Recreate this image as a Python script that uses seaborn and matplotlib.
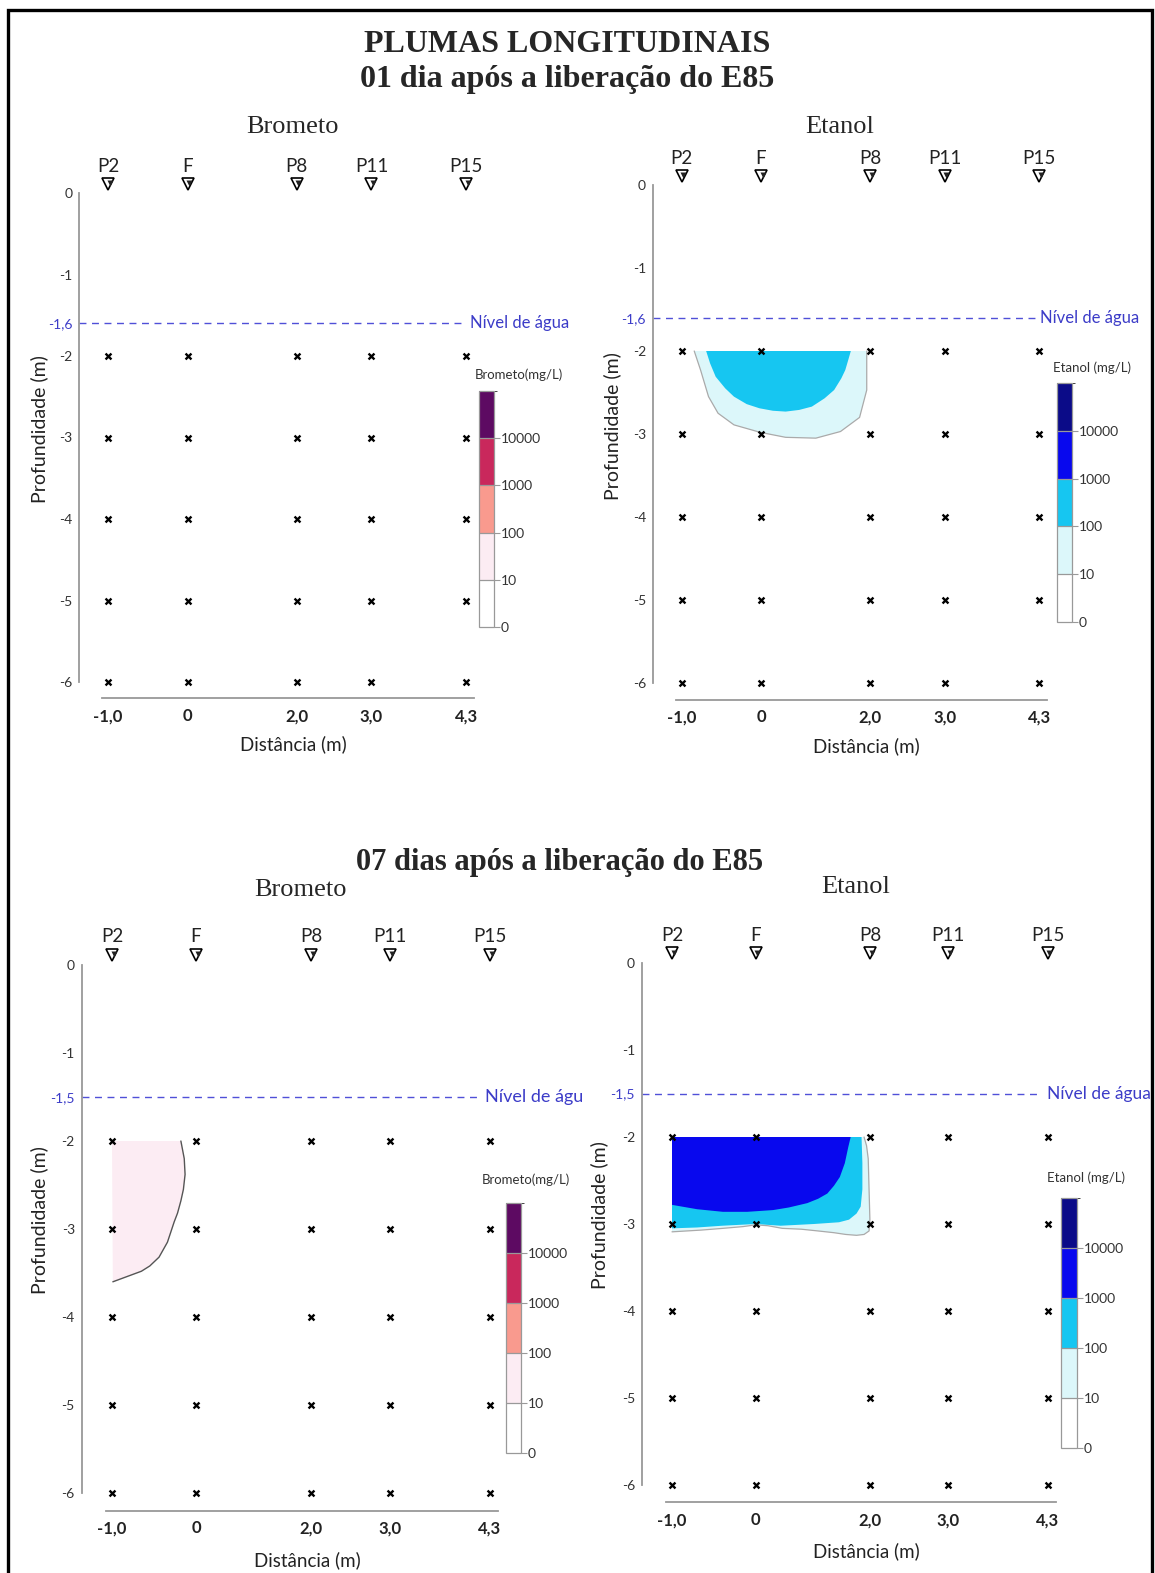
import matplotlib
matplotlib.use('Agg')
import numpy as np
import pandas as pd
import matplotlib.pyplot as plt
from matplotlib.colors import ListedColormap, BoundaryNorm
from matplotlib.cm import ScalarMappable
from matplotlib.patches import Rectangle
import seaborn as sns

sns.set_style('white')
plt.rcParams['font.family'] = ['Lato', 'DejaVu Sans']

W, H = 1155, 1573

# --- data -------------------------------------------------------------
wells = ['P2', 'F', 'P8', 'P11', 'P15']
well_dist = ['-1,0', '0', '2,0', '3,0', '4,3']
well_x = [0.0, 1.0, 2.37, 3.31, 4.50]          # schematic position along the section
sample_depth = [-2, -3, -4, -5, -6]
depth_ticks = [0, -1, -2, -3, -4, -5, -6]

conc_bounds = [0, 10, 100, 1000, 10000, 100000]
conc_labels = ['0', '10', '100', '1000', '10000']
brometo_colors = ['#ffffff', '#fcecf3', '#f99a8e', '#c9285c', '#5d0a62']
etanol_colors = ['#ffffff', '#dcf7fa', '#16c6f1', '#0808ee', '#0b0b88']

water_day1 = -1.6
water_day7 = -1.5

# plume outlines (x position, depth m)
et1_10_x = [0.16, 0.24, 0.34, 0.46, 0.66, 0.99, 1.31, 1.69, 2.00, 2.24, 2.33, 2.33]
et1_10_z = [-2.00, -2.23, -2.55, -2.75, -2.89, -2.98, -3.04, -3.05, -2.97, -2.80, -2.47, -2.00]
et1_100_x = [0.31, 0.36, 0.43, 0.55, 0.66, 0.82, 0.98, 1.15, 1.31, 1.48, 1.64, 1.80, 1.92, 2.01, 2.06, 2.10, 2.13]
et1_100_z = [-2.00, -2.15, -2.31, -2.45, -2.55, -2.64, -2.69, -2.72, -2.73, -2.71, -2.67, -2.57, -2.47, -2.33, -2.23, -2.10, -2.00]

br7_10_x = [0.82, 0.86, 0.87, 0.85, 0.82, 0.78, 0.74, 0.66, 0.56, 0.45, 0.35, 0.18, 0.01]
br7_10_z = [-2.00, -2.20, -2.38, -2.55, -2.68, -2.82, -2.92, -3.15, -3.32, -3.42, -3.48, -3.54, -3.60]

et7_10_x = [2.30, 2.33, 2.35, 2.36, 2.37, 2.36, 2.30, 2.21, 2.08, 1.94, 1.75, 1.55, 1.32, 1.15, 1.00, 0.85, 0.61, 0.35, 0.00]
et7_10_z = [-2.00, -2.10, -2.25, -2.60, -2.95, -3.08, -3.12, -3.13, -3.12, -3.10, -3.08, -3.06, -3.05, -3.02, -3.01, -3.03, -3.05, -3.07, -3.09]
et7_100_x = [2.27, 2.28, 2.28, 2.26, 2.21, 2.12, 2.00, 1.70, 1.30, 1.00, 0.60, 0.30, 0.00]
et7_100_z = [-2.00, -2.30, -2.60, -2.80, -2.88, -2.95, -2.98, -3.00, -3.02, -3.00, -3.02, -3.04, -3.05]
et7_1000_x = [2.14, 2.11, 2.07, 2.01, 1.94, 1.86, 1.75, 1.62, 1.40, 1.21, 0.90, 0.61, 0.30, 0.00]
et7_1000_z = [-2.00, -2.12, -2.30, -2.46, -2.56, -2.65, -2.71, -2.76, -2.81, -2.84, -2.86, -2.86, -2.83, -2.78]

grid = pd.DataFrame([(x, z) for x in well_x for z in sample_depth], columns=['x', 'depth'])

# --- layout ----------------------------------------------------------
XL, YT, YB = -0.75, 0.6, -6.45
fig = plt.figure(figsize=(W / 100, H / 100), dpi=100)


def px_rect(left, top, right, bottom):
    return [left / W, 1 - bottom / H, (right - left) / W, (bottom - top) / H]


def ftext(x, y, s, **kw):
    fig.text(x / W, 1 - y / H, s, **kw)


def draw_panel(x0, sx, y0, sy, xr, water, line_end, text_x, text_size, colors,
               cbar_rect, cbar_label, label_xy, plumes):
    ax = fig.add_axes(px_rect(x0 + XL * sx, y0 - YT * sy, x0 + xr * sx, y0 - YB * sy))
    ax.patch.set_alpha(0)

    for xs, zs, c in plumes:
        ax.fill(xs, zs, color=c, lw=0, zorder=1)

    sns.scatterplot(data=grid, x='x', y='depth', marker='x', color='black',
                    s=18, linewidth=1.7, ax=ax, legend=False, zorder=5)
    ax.set_xlabel('')
    ax.set_ylabel('')

    # wells
    for xi, name in zip(well_x, wells):
        ax.plot(xi, 0.11, marker='v', ms=9, mfc='white', mec='black', mew=1.2, clip_on=False, zorder=6)
        ax.plot(xi + 0.02, 0.12, marker='v', ms=4.5, mfc='#222222', mec='none', clip_on=False, zorder=7)
        ax.text(xi, 0.32, name, ha='center', va='center', fontsize=13.5, color='#222222', clip_on=False)

    # water table
    ax.plot([-0.36, line_end], [water, water], ls=(0, (5, 4)), color='#5050d8', lw=1.0)
    ax.text(text_x, water, 'Nível de água', ha='left', va='center', fontsize=text_size,
            color='#3c3cc8', clip_on=True)

    # axes
    for s in ['top', 'right']:
        ax.spines[s].set_visible(False)
    ax.spines['left'].set_position(('data', -0.36))
    ax.spines['left'].set_bounds(-6, 0)
    ax.spines['bottom'].set_position(('data', -6.2))
    ax.spines['bottom'].set_bounds(-0.07, 4.6)
    for s in ['left', 'bottom']:
        ax.spines[s].set_color('#999999')
        ax.spines[s].set_linewidth(1.3)

    yt = depth_ticks[:2] + [water] + depth_ticks[2:]
    ylab = [str(v) if v != water else f'{v:.1f}'.replace('.', ',') for v in yt]
    ax.set_yticks(yt)
    ax.set_yticklabels(ylab)
    ax.tick_params(axis='y', length=4, width=0.8, color='#888888', labelsize=10, pad=1,
                   labelcolor='#333333', direction='out')
    for t, v in zip(ax.get_yticklabels(), yt):
        if v == water:
            t.set_color('#3c3cc8')
    ax.set_xticks(well_x)
    ax.set_xticklabels(well_dist, fontweight='bold')
    ax.tick_params(axis='x', length=0, pad=7, labelsize=12, labelcolor='#222222')
    ax.set_xlim(XL, xr)
    ax.set_ylim(YB, YT)

    ax.text(-0.87, -2.9, 'Profundidade (m)', rotation=90, ha='center', va='center',
            fontsize=14, color='#222222', clip_on=False)
    ax.text(2.33, -6.76, 'Distância (m)', ha='center', va='center', fontsize=13.5,
            color='#222222', clip_on=False)

    # discrete colour scale
    cax = fig.add_axes(px_rect(*cbar_rect))
    cmap = ListedColormap(colors)
    norm = BoundaryNorm(conc_bounds, cmap.N)
    cb = fig.colorbar(ScalarMappable(norm=norm, cmap=cmap), cax=cax, boundaries=conc_bounds,
                      ticks=conc_bounds[:-1], spacing='uniform', drawedges=True)
    cb.set_ticklabels(conc_labels)
    cb.outline.set_edgecolor('#999999')
    cb.outline.set_linewidth(0.9)
    cb.dividers.set_color('#999999')
    cb.dividers.set_linewidth(0.9)
    cb.ax.tick_params(length=4, width=0.8, color='#999999', labelsize=10, pad=1, labelcolor='#333333')
    ftext(label_xy[0], label_xy[1], cbar_label, ha='left', va='center', fontsize=9.5, color='#333333')
    return ax


# day 1 - brometo (no plume)
draw_panel(108, 79.6, 193, 81.5, 5.86, water_day1, 4.47, 4.55, 12, brometo_colors,
           (479, 391, 494, 627), 'Brometo(mg/L)', (475, 375), [])

# day 1 - etanol
ax_tr = draw_panel(681.5, 79.5, 185, 83, 5.85, water_day1, 4.50, 4.51, 12, etanol_colors,
                   (1057, 383, 1072, 622), 'Etanol (mg/L)', (1053, 368),
                   [(et1_10_x, et1_10_z, etanol_colors[1]),
                    (et1_100_x, et1_100_z, etanol_colors[2])])
ax_tr.plot(et1_10_x, et1_10_z, color='#aaaaaa', lw=0.9, zorder=2)

# day 7 - brometo
ax_bl = draw_panel(112, 84, 965, 88, 5.61, water_day7, 4.39, 4.44, 13, brometo_colors,
                   (506, 1203, 521, 1453), 'Brometo(mg/L)', (482, 1180),
                   [([0.0] + br7_10_x, [-2.0] + br7_10_z, brometo_colors[1])])
ax_bl.plot(br7_10_x, br7_10_z, color='#555555', lw=1.0, zorder=2)

# day 7 - etanol
ax_br = draw_panel(672, 83.5, 963, 87, 5.72, water_day7, 4.43, 4.49, 12.5, etanol_colors,
                   (1061, 1198, 1077, 1448), 'Etanol (mg/L)', (1047, 1178),
                   [([0.0] + et7_10_x, [-2.0] + et7_10_z, etanol_colors[1]),
                    ([0.0] + et7_100_x, [-2.0] + et7_100_z, etanol_colors[2]),
                    ([0.0] + et7_1000_x, [-2.0] + et7_1000_z, etanol_colors[3])])
ax_br.plot(et7_10_x, et7_10_z, color='#aaaaaa', lw=0.9, zorder=2)

# titles
serif = ['Liberation Serif', 'DejaVu Serif']
ftext(567, 44, 'PLUMAS LONGITUDINAIS', ha='center', va='center', fontsize=23,
      fontweight='bold', family=serif)
ftext(567, 80, '01 dia após a liberação do E85', ha='center', va='center', fontsize=23,
      fontweight='bold', family=serif)
ftext(292, 127, 'Brometo', ha='center', va='center', fontsize=19, family=serif)
ftext(840, 127, 'Etanol', ha='center', va='center', fontsize=19, family=serif)
ftext(560, 862, '07 dias após a liberação do E85', ha='center', va='center', fontsize=22,
      fontweight='bold', family=serif)
ftext(300, 890, 'Brometo', ha='center', va='center', fontsize=19, family=serif)
ftext(856, 887, 'Etanol', ha='center', va='center', fontsize=19, family=serif)

# frame
fig.patches.append(Rectangle((8 / W, -0.02), (1152 - 8) / W, 1.02 - 10 / H, fill=False,
                             edgecolor='black', lw=2.4, transform=fig.transFigure))

fig.savefig('out.png', dpi=100)
